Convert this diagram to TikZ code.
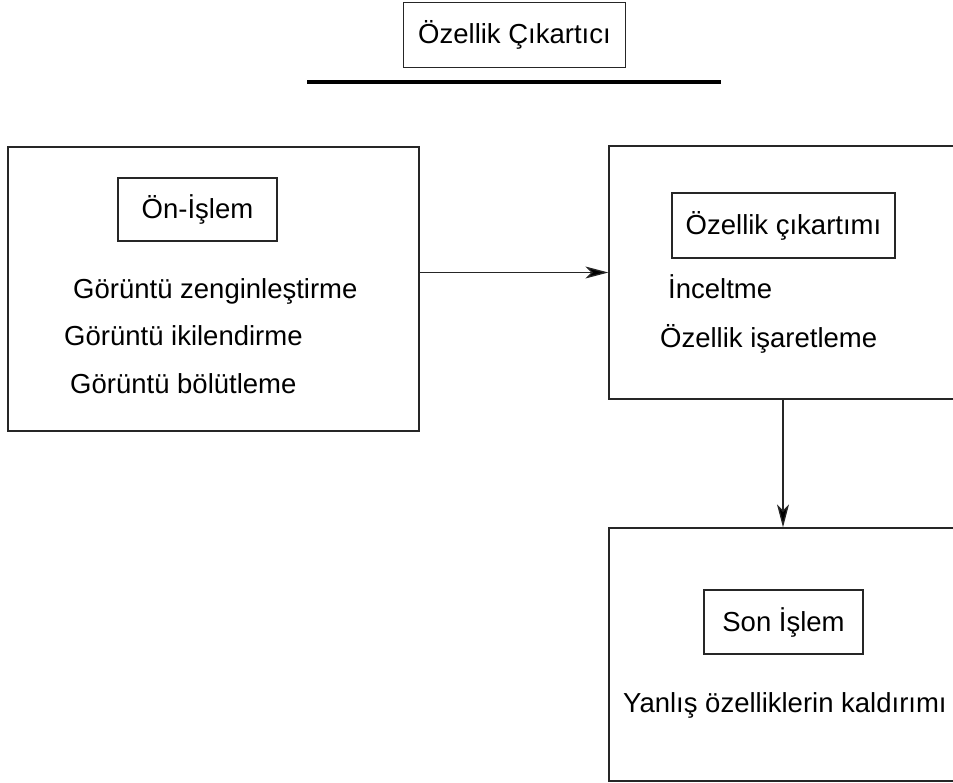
\documentclass[tikz,border=0pt]{standalone}
\usepackage{fontspec}
\setmainfont{Liberation Sans}
\usetikzlibrary{arrows.meta}
\tikzset{
  boxline/.style={draw=black!85, line width=1.3pt},
  bigbox/.style={boxline, rectangle, inner sep=0pt},
  titlebox/.style={boxline, rectangle, inner sep=0pt, font=\fontsize{27.5}{32}\selectfont},
  txt/.style={inner sep=0pt, anchor=base west, font=\fontsize{27.5}{32}\selectfont},
  conn/.style={draw=black!85, line width=1.3pt, -{Stealth[length=23pt,width=12pt,inset=6pt,fill=black]}}
}
\begin{document}
\begin{tikzpicture}[x=1pt,y=-1pt]
\useasboundingbox (0,0) rectangle (953,782);
\begin{scope}
\clip (0,0) rectangle (953,782);
% title
\node[titlebox, minimum width=222pt, minimum height=65pt] (title) at (514.5,35) {Özellik Çıkartıcı};
\coordinate (barL) at (307,82);
\coordinate (barR) at (721,82);
\draw[line width=3.2pt] (barL) -- (barR);
% big boxes
\node[bigbox, minimum width=411pt, minimum height=284pt] (pre) at (213.5,289) {};
\node[bigbox, minimum width=348pt, minimum height=253pt] (feat) at (783,272.5) {};
\node[bigbox, minimum width=348pt, minimum height=253pt] (post) at (783,654.5) {};
% inner title boxes
\node[titlebox, minimum width=159pt, minimum height=63pt] (preT) at (197.5,209.5) {Ön-İşlem};
\node[titlebox, minimum width=223pt, minimum height=65pt] (featT) at (783.5,225.5) {Özellik çıkartımı};
\node[titlebox, minimum width=159pt, minimum height=64pt] (postT) at (783.5,622) {Son İşlem};
% texts
\node[txt] (p1) at (73,298) {Görüntü zenginleştirme};
\node[txt] (p2) at (64,345) {Görüntü ikilendirme};
\node[txt] (p3) at (70,393) {Görüntü bölütleme};
\node[txt] (f1) at (668,298) {İnceltme};
\node[txt] (f2) at (660,347) {Özellik işaretleme};
\node[txt] (s1) at (623,712) {Yanlış özelliklerin kaldırımı};
% connectors
\draw[conn] (pre.east |- feat.west) -- (feat.west);
\draw[conn] (feat.south) -- (post.north);
\end{scope}
\end{tikzpicture}
\end{document}
